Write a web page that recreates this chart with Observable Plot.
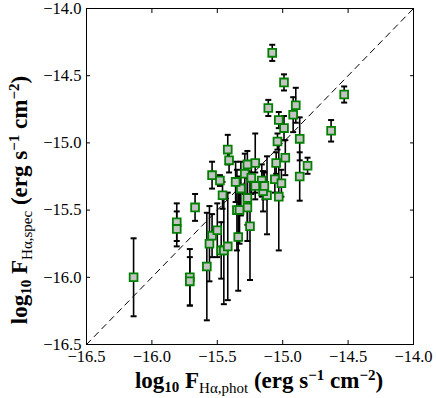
<!DOCTYPE html>
<html><head><meta charset="utf-8">
<script src="https://cdn.jsdelivr.net/npm/d3@7"></script>
<script src="https://cdn.jsdelivr.net/npm/@observablehq/plot@0.6"></script>
<style>body{margin:0;background:#fff} svg{display:block}</style>
</head><body><div id="chart"></div>
<script>
const xPhot = [-15.08,-14.99,-15.11,-14.90,-14.92,-14.87,-14.53,-14.63,-15.03,-14.99,-15.04,-14.98,-14.81,-15.05,-15.06,-15.01,-15.03,-14.87,-15.12,-15.15,-15.16,-15.14,-15.21,-15.27,-15.29,-15.24,-15.21,-15.32,-15.36,-15.42,-15.41,-15.54,-15.48,-15.46,-15.27,-15.27,-15.25,-15.35,-15.33,-15.67,-15.81,-15.81,-15.54,-15.50,-15.34,-16.14,-15.71,-15.71,-15.58,-15.56,-15.47,-15.45,-15.42];
const ySpec = [-14.33,-14.55,-14.74,-14.72,-14.79,-14.97,-14.64,-14.91,-14.83,-14.89,-14.99,-15.11,-15.17,-15.15,-15.27,-15.30,-15.40,-15.25,-15.39,-15.36,-15.28,-15.32,-15.15,-15.16,-15.23,-15.26,-15.32,-15.34,-15.29,-15.05,-15.13,-15.24,-15.28,-15.39,-15.41,-15.48,-15.62,-15.50,-15.50,-15.48,-15.59,-15.64,-15.69,-15.65,-15.70,-16.00,-16.00,-16.03,-15.92,-15.75,-15.80,-15.80,-15.77];
const yErr = [0.06,0.06,0.06,0.13,0.13,0.16,0.06,0.08,0.06,0.09,0.06,0.13,0.06,0.08,0.10,0.10,0.40,0.18,0.29,0.15,0.12,0.10,0.22,0.10,0.15,0.12,0.10,0.20,0.15,0.11,0.09,0.10,0.04,0.10,0.20,0.25,0.40,0.30,0.25,0.10,0.14,0.13,0.16,0.20,0.40,0.29,0.21,0.18,0.40,0.28,0.21,0.40,0.40];
const xTicks = [-16.5, -16.0, -15.5, -15.0, -14.5, -14.0];
const yTicks = [-16.5, -16.0, -15.5, -15.0, -14.5, -14.0];
const diagonal = [-16.5, -14.0];

const pts = xPhot.map((x, i) => ({x, y: ySpec[i], lo: ySpec[i] - yErr[i], hi: ySpec[i] + yErr[i]}));
const caps = pts.flatMap(d => [{x: d.x, y: d.lo}, {x: d.x, y: d.hi}]);
const diag = diagonal.map(v => ({x: v, y: v}));
const capSymbol = {draw(ctx) { ctx.moveTo(-3, 0); ctx.lineTo(3, 0); }};
const noText = () => null;

const chart = Plot.plot({
  width: 436, height: 398,
  marginLeft: 86, marginRight: 23, marginTop: 8, marginBottom: 54,
  x: {domain: [-16.5, -14.0]},
  y: {domain: [-16.5, -14.0]},
  style: {fontFamily: "Liberation Serif", fontSize: "16.5px", color: "black", background: "white"},
  marks: [
    Plot.line(diag, {x: "x", y: "y", stroke: "black", strokeWidth: 1, strokeDasharray: "6,5"}),
    Plot.ruleX(pts, {x: "x", y1: "lo", y2: "hi", stroke: "black", strokeWidth: 1.6}),
    Plot.dot(caps, {x: "x", y: "y", symbol: capSymbol, r: 3, stroke: "black", strokeWidth: 2, fill: "none"}),
    Plot.dot(pts, {x: "x", y: "y", symbol: "square", r: 4.4, fill: "#c4c4c4", stroke: "#008000", strokeWidth: 1.8}),
    Plot.frame({stroke: "black", strokeWidth: 1}),
    Plot.axisX(xTicks, {anchor: "bottom", tickSize: -4, tickPadding: 10, tickFormat: ".1f", label: null}),
    Plot.axisX(xTicks, {anchor: "top", tickSize: -4, tickFormat: noText, label: null}),
    Plot.axisY(yTicks, {anchor: "left", tickSize: -4, tickPadding: 9, tickFormat: ".1f", label: null}),
    Plot.axisY(yTicks, {anchor: "right", tickSize: -4, tickFormat: noText, label: null})
  ]
});

const svg = d3.select(chart);
function addLabel(g, sub) {
  const t = g.append("text").attr("font-family", "Liberation Serif").attr("font-size", 23)
    .attr("font-weight", "bold").attr("fill", "black").attr("text-anchor", "middle");
  t.append("tspan").text("log");
  t.append("tspan").attr("font-size", 15).attr("dy", 4).text("10");
  t.append("tspan").attr("dy", -4).text(" F");
  t.append("tspan").attr("font-size", 15).attr("font-weight", "normal").attr("dy", 5).text("H\u03b1," + sub);
  t.append("tspan").attr("dy", -5).text(" (erg s");
  t.append("tspan").attr("font-size", 15).attr("dy", -8).text("\u22121");
  t.append("tspan").attr("dy", 8).text(" cm");
  t.append("tspan").attr("font-size", 15).attr("dy", -8).text("\u22122");
  t.append("tspan").attr("dy", 8).text(")");
  return t;
}
addLabel(svg.append("g").attr("transform", "translate(259,388)"), "phot");
addLabel(svg.append("g").attr("transform", "translate(27,200) rotate(-90)"), "spec");

document.getElementById("chart").appendChild(chart);
</script>
</body></html>
